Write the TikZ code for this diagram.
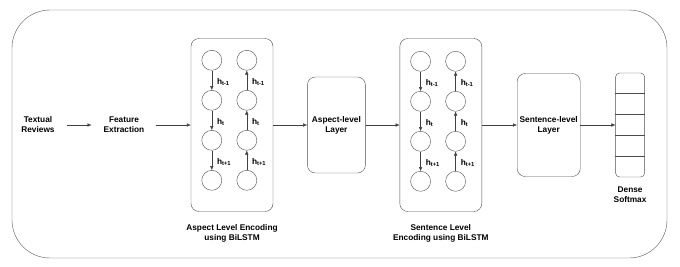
\documentclass[tikz,border=0pt]{standalone}
\usepackage{fontspec}
\setmainfont{Liberation Sans}
\usetikzlibrary{positioning,arrows.meta,calc}

\begin{document}
\begin{tikzpicture}[
			x=1pt,y=-1pt,
			node distance=34pt,
			lbl/.style={
				align=center,
				font=\bfseries\fontsize{8.3}{10}\selectfont,
				inner sep=1pt
			},
			txt/.style={lbl,inner xsep=12pt},
			enc/.style={
				draw=black!70,
				rounded corners=8pt,
				minimum width=82pt,
				minimum height=173pt
			},
			layer/.style={enc,lbl,minimum height=96pt},
			cell/.style={draw=black!70,circle,minimum size=20pt,inner sep=0pt},
			hlbl/.style={lbl,anchor=west,xshift=4pt,yshift=-2pt},
			arrow/.style={-{Latex[length=4pt,width=3.5pt]},draw=black!75}
			]
			
			\useasboundingbox (0,0) rectangle (680,266);
			\node[draw=black!65,rounded corners=38pt,minimum width=655pt,minimum height=248pt] (frame) at (339.5,134) {};
			
			\node[txt] (tr) at (38,125) {Textual\\ Reviews};
			\node[txt] (fe) at (124,125) {Feature\\ Extraction};
			
			\node[enc] (aenc) at (232,125) {};
			\node[layer,minimum width=58pt,right=of aenc] (alayer) {Aspect-level\\ Layer};
			\node[enc,right=of alayer] (senc) {};
			\node[layer,minimum width=63pt,minimum height=103pt,right=35pt of senc] (slayer) {Sentence-level\\ Layer};
			\node[draw=black!70,rounded corners=4pt,minimum width=29pt,minimum height=104pt,right=35pt of slayer] (dense) {};
			
			\node[lbl,below=12pt of aenc] (acap) {Aspect Level Encoding\\ using BiLSTM};
			\node[lbl,below=12pt of senc] (scap) {Sentence Level\\ Encoding using BiLSTM};
			\node[lbl,below=8pt of dense] (dcap) {Dense\\ Softmax};
			
			% dense cells
			\foreach \k in {1,...,4}
				\draw[black!70] ($(dense.north west)!\k/5!(dense.south west)$) -- ($(dense.north east)!\k/5!(dense.south east)$);
			
			% BiLSTM cells
			\foreach \enc/\dy in {aenc/22,senc/23} {
				\foreach \i in {1,...,4} {
					\node[cell] (\enc f\i) at ($(\enc.north west)+(21,{\dy+40*(\i-1)})$) {};
					\node[cell] (\enc b\i) at ($(\enc.north west)+(56,{\dy+40*(\i-1)})$) {};
				}
				\foreach \i/\j/\s in {1/2/t-1,2/3/t,3/4/t+1} {
					\draw[arrow] (\enc f\i) -- node[hlbl] {h\textsubscript{\s}} (\enc f\j);
					\draw[arrow] (\enc b\j) -- node[hlbl] {h\textsubscript{\s}} (\enc b\i);
				}
			}
			
			\draw[arrow] (tr) -- (fe);
			\draw[arrow] (fe) -- (aenc);
			\draw[arrow] (aenc) -- (alayer);
			\draw[arrow] (alayer) -- (senc);
			\draw[arrow] (senc) -- (slayer);
			\draw[arrow] (slayer) -- (dense);
			
		\end{tikzpicture}
\end{document}
